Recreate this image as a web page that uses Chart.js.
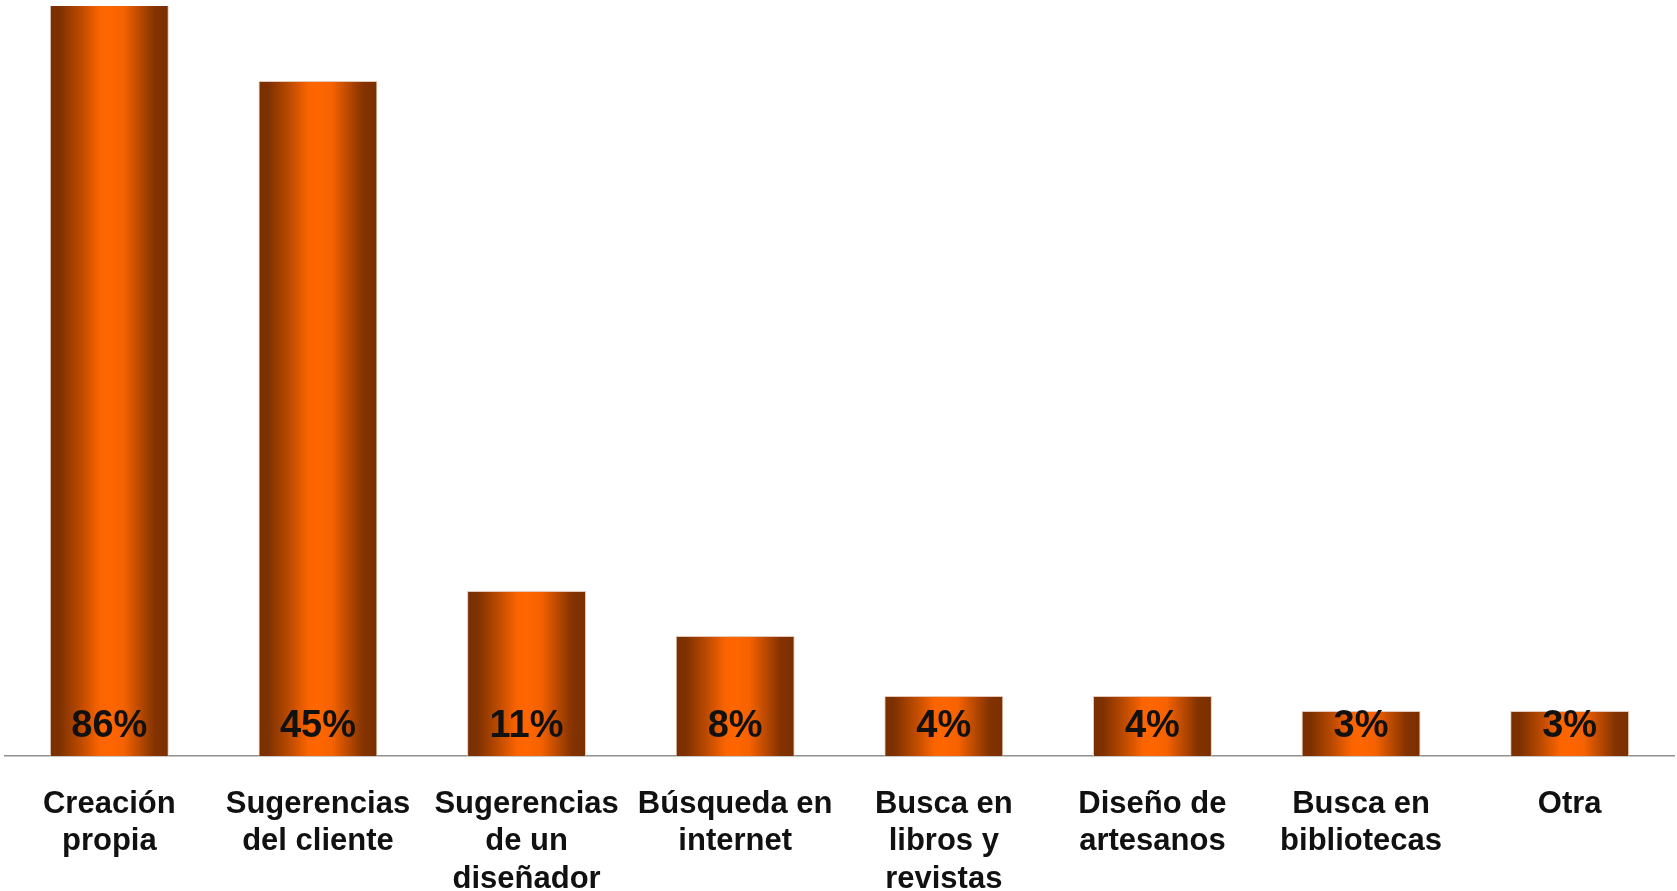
<!DOCTYPE html>
<html lang="es">
  <head>
    <meta charset="UTF-8" />
    <title>Fuente de diseños</title>
    <script src="https://cdn.jsdelivr.net/npm/chart.js"></script>
    <style>
      html, body { margin: 0; padding: 0; background: #fff; }
      #wrap { width: 1677px; height: 891px; position: relative; }
    </style>
    <script>
      // categorias (multilinea como en el original)
      var categorias = [
        ["Creación", "propia"],
        ["Sugerencias", "del cliente"],
        ["Sugerencias", "de un", "diseñador"],
        ["Búsqueda en", "internet"],
        ["Busca en", "libros y", "revistas"],
        ["Diseño de", "artesanos"],
        ["Busca en", "bibliotecas"],
        ["Otra"]
      ];
      var porcentajes = [86, 45, 11, 8, 4, 4, 3, 3];
      var ejeMax = 50;
    </script>
  </head>
  <body>
    <div id="wrap">
      <canvas id="myChart" width="1677" height="891"></canvas>
    </div>
    <script>
      var BAR_PCT = 0.57;
      var FONT = "'Liberation Sans', Arial, sans-serif";

      function barGradient(ctx) {
        var chart = ctx.chart;
        var xs = chart.scales && chart.scales.x;
        if (!chart.chartArea || !xs || ctx.dataIndex === undefined) return "#ff6600";
        var cx = xs.getPixelForValue(ctx.dataIndex);
        var w = (xs.width / categorias.length) * BAR_PCT;
        var g = chart.ctx.createLinearGradient(cx - w / 2, 0, cx + w / 2, 0);
        g.addColorStop(0, "#7a2f00");
        g.addColorStop(0.08, "#7d3100");
        g.addColorStop(0.25, "#b84900");
        g.addColorStop(0.42, "#fb6400");
        g.addColorStop(0.5, "#ff6600");
        g.addColorStop(0.62, "#f56200");
        g.addColorStop(0.88, "#843300");
        g.addColorStop(1, "#7a2f00");
        return g;
      }

      var etiquetas = {
        id: "etiquetas",
        afterDatasetsDraw: function (chart) {
          var c = chart.ctx;
          var meta = chart.getDatasetMeta(0);
          var y0 = chart.scales.y.getPixelForValue(0);
          c.save();
          c.font = "bold 38px " + FONT;
          c.fillStyle = "#111";
          c.textAlign = "center";
          c.textBaseline = "middle";
          meta.data.forEach(function (bar, i) {
            c.fillText(porcentajes[i] + "%", bar.x, y0 - 29);
          });
          c.restore();
        }
      };

      var ctx = document.getElementById("myChart").getContext("2d");
      var myChart = new Chart(ctx, {
        type: "bar",
        data: {
          labels: categorias,
          datasets: [
            {
              data: porcentajes,
              backgroundColor: barGradient,
              borderColor: "rgba(225,195,180,0.9)",
              borderWidth: { top: 1, left: 1, right: 1, bottom: 0 },
              borderSkipped: "bottom",
              categoryPercentage: 1,
              barPercentage: BAR_PCT,
              clip: 0
            }
          ]
        },
        options: {
          responsive: false,
          animation: false,
          layout: { padding: { left: 5, right: 3, top: 6, bottom: 0 } },
          plugins: {
            legend: { display: false },
            tooltip: { enabled: false }
          },
          scales: {
            x: {
              grid: { display: false, drawTicks: false },
              border: { display: true, color: "#909090", width: 1.5 },
              ticks: {
                color: "#111",
                font: { family: FONT, size: 31, weight: "bold", lineHeight: 1.2 },
                maxRotation: 0,
                autoSkip: false,
                padding: 30
              },
              afterFit: function (scale) {
                scale.height = 135;
              }
            },
            y: {
              display: false,
              min: 0,
              max: ejeMax
            }
          }
        },
        plugins: [etiquetas]
      });
    </script>
  </body>
</html>
